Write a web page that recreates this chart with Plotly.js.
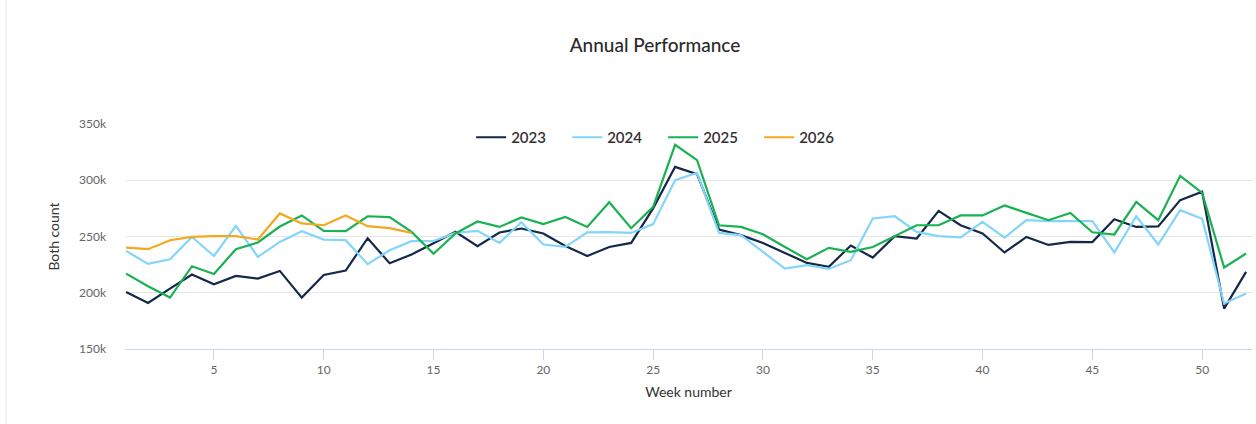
<!DOCTYPE html>
<html>
<head>
<meta charset="utf-8">
<script src="https://cdn.plot.ly/plotly-3.0.1.min.js"></script>
<style>html,body{margin:0;padding:0;background:#fff;}#chart{width:1256px;height:424px;}</style>
</head>
<body>
<div id="chart"></div>
<script>
const weeks = Array.from({length: 52}, (_, i) => i + 1);
const seriesNames = ["2023", "2024", "2025", "2026"];
const seriesColors = ["#15284a", "#83d5fa", "#1ab152", "#f3a81e"];

// values in thousands
const v2023 = [200.7,190.9,203.7,216.2,207.6,215,212.6,219.4,195.7,215.8,
               219.7,248.5,226.2,234,244,254.1,241.4,253.6,257.1,252.7,
               241.6,232.7,240.7,244.3,275,311.9,305.4,256.2,251.2,244.3,
               235.4,226.5,223,242,231.3,250.3,248.2,272.8,260,252.7,
               235.8,249.6,242.5,245.2,245,265.4,258.5,259,282.3,289.7,
               185.9,218.5];
const v2024 = [237.2,225.6,229.8,249.6,232.7,259.4,231.9,245.2,254.7,247.3,
               246.7,225.4,237.8,245.8,246,253.2,255,244.3,262.7,242.9,
               240.7,253.6,253.9,253.2,261,300.1,306.6,253.2,251.2,236.3,
               221.5,224.5,221.2,228.9,266,268,254.1,250.3,249.3,263,
               249,264.5,263.6,263.6,263.6,235.8,268,242.9,273.4,265.7,
               190.4,199.3];
const v2025 = [217,205.8,195.7,223.6,216.7,238.7,244.7,258.9,268.7,255,
               254.7,268,267.2,254.1,234.6,252.7,263.3,258.5,266.9,261,
               267.4,258.5,280.5,257.4,276.3,331.5,317.9,260,258.5,252,
               240.7,229.8,239.9,236.3,240.7,250.3,260,260,268.7,268.7,
               277.6,271,264.5,271,253.8,251.8,280.8,264.5,303.9,288.8,
               222.4,234.9];
const v2026 = [240.2,238.7,246.7,249.6,250.3,250.3,247.3,270.5,261.6,260,
               268.7,259.2,257.4,253.2];

const allValues = [v2023, v2024, v2025, v2026];
const xTicks = [5,10,15,20,25,30,35,40,45,50];
const yTicks = [150,200,250,300,350];
const yTickLabels = ["150k","200k","250k","300k","350k"];

const FONT = "Lato, 'Open Sans', sans-serif";

const traces = allValues.map((vals, i) => ({
  type: "scatter",
  mode: "lines",
  name: seriesNames[i],
  x: weeks.slice(0, vals.length),
  y: vals,
  line: {color: seriesColors[i], width: 2.2},
  hovertemplate: "Week %{x}: %{y}k<extra>" + seriesNames[i] + "</extra>"
}));

const layout = {
  width: 1256,
  height: 424,
  paper_bgcolor: "#ffffff",
  plot_bgcolor: "#ffffff",
  margin: {l: 125, r: 4, t: 123.5, b: 75.3},
  font: {family: FONT, color: "#333333"},
  title: {
    text: "Annual Performance",
    font: {family: FONT, size: 19, color: "#2b2b2b", weight: 500},
    xref: "container", x: 0.5215, xanchor: "center",
    yref: "container", y: 0.894, yanchor: "middle"
  },
  showlegend: true,
  legend: {
    orientation: "h",
    x: 0.4775, xanchor: "center",
    y: 0.94, yanchor: "middle",
    font: {family: FONT, size: 15, color: "#333333", weight: 600},
    bgcolor: "rgba(0,0,0,0)",
    itemwidth: 30,
    entrywidth: 51,
    traceorder: "normal"
  },
  xaxis: {
    range: [0.95, 52.27],
    tickvals: xTicks,
    ticktext: xTicks.map(String),
    showgrid: false,
    zeroline: false,
    showline: true,
    linecolor: "#ccd6eb",
    linewidth: 1,
    ticks: "outside",
    ticklen: 10,
    tickcolor: "#ccd6eb",
    tickfont: {family: FONT, size: 12, color: "#666666"},
    title: {text: "Week number", font: {family: FONT, size: 14, color: "#333333"}, standoff: 10},
    fixedrange: true
  },
  yaxis: {
    range: [150, 350],
    tickvals: yTicks,
    ticktext: yTickLabels,
    showgrid: true,
    gridcolor: "#e6e6e6",
    gridwidth: 1,
    zeroline: false,
    showline: false,
    ticks: "",
    ticklabelstandoff: 18,
    tickfont: {family: FONT, size: 12, color: "#666666"},
    title: {text: "Both count", font: {family: FONT, size: 14, color: "#333333"}, standoff: 16},
    fixedrange: true
  },
  shapes: [{
    type: "line", xref: "paper", yref: "paper",
    x0: (6 - 125) / 1127, x1: (6 - 125) / 1127,
    y0: -75.3 / 225.2, y1: 1 + 123.5 / 225.2,
    line: {color: "#e6e6e6", width: 1}
  }]
};

Plotly.newPlot("chart", traces, layout, {displayModeBar: false, responsive: false});
</script>
</body>
</html>
